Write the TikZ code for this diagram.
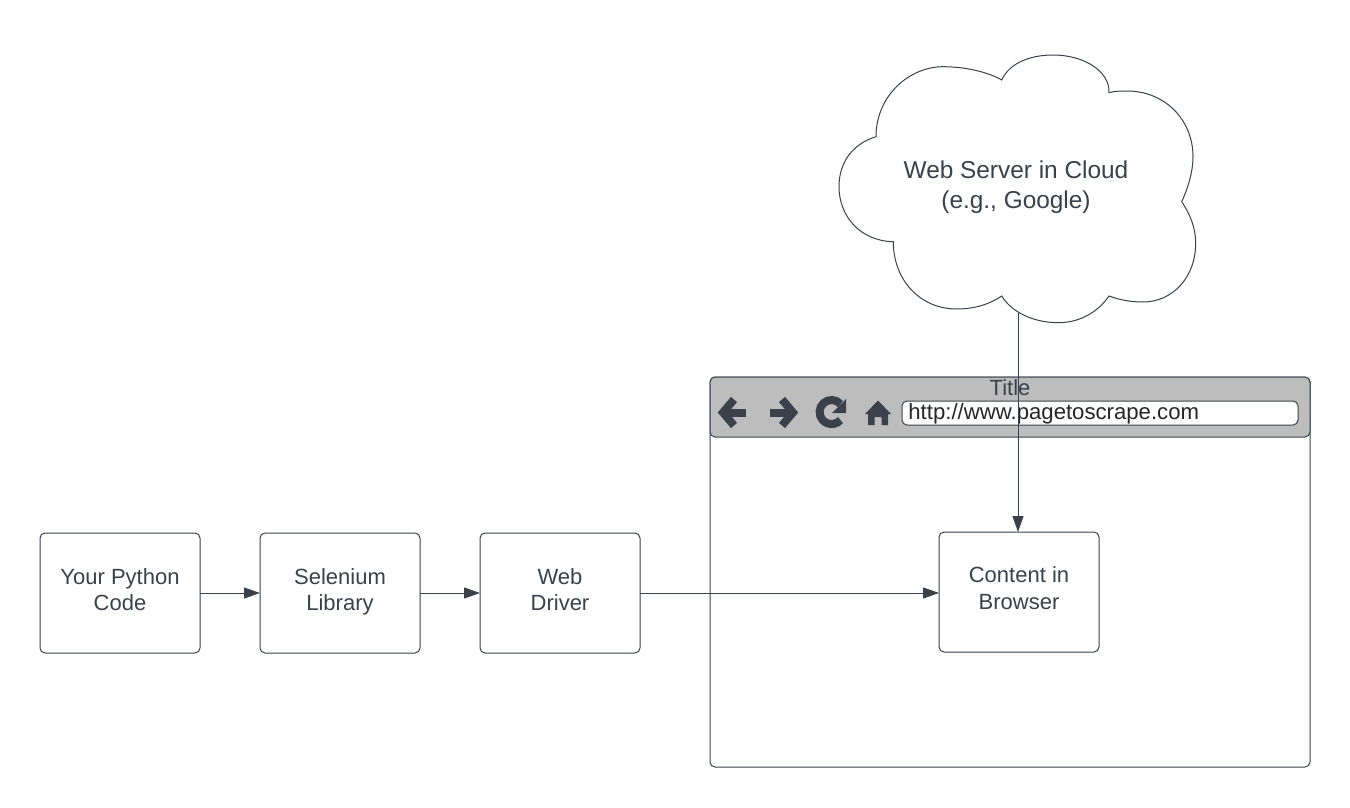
\documentclass[tikz,border=0pt]{standalone}
\usepackage{fontspec}
\setmainfont{Liberation Sans}
\usetikzlibrary{arrows.meta}
\definecolor{ink}{HTML}{3A414A}
\definecolor{barfill}{HTML}{BDBDBD}
\tikzset{
  lbl/.style={text=ink, font=\fontsize{11}{13.25}\selectfont, align=center},
  boxlbl/.style={lbl, anchor=north, inner sep=0pt},
  box/.style={draw=ink, line width=.5pt, rounded corners=2.5pt, minimum width=80pt, minimum height=60pt, inner sep=0pt, outer sep=0pt},
  link/.style={draw=ink, line width=.5pt, -{Triangle[length=8pt,width=5.5pt]}},
  outline/.style={draw=ink, line width=.5pt, rounded corners=2.5pt},
  icon/.style={draw=ink, line width=4pt}
}
\begin{document}
\begin{tikzpicture}[x=.5pt, y=-.5pt]
\useasboundingbox (0,0) rectangle (1350,808);
\draw[outline] (710,377) rectangle (1310,767);
\draw[outline, fill=barfill] (710,377) rectangle (1310,437);
\draw[outline, fill=white] (902,401) rectangle (1298,425);
\node[lbl] (title) at (1010,388) {Title};
\node[lbl, font=\fontsize{11.08}{13.25}\selectfont, anchor=west, inner sep=0pt, text=black!85] (url) at (908,414) {http://www.pagetoscrape.com};
\draw[icon] (734,399.5) -- (723,412.5) -- (734,425.5);
\draw[icon] (725,412.5) -- (746,412.5);
\draw[icon] (782,399.5) -- (793,412.5) -- (782,425.5);
\draw[icon] (770,412.5) -- (791,412.5);
\draw[icon] (840.5,404) arc[start angle=-42, end angle=-318, radius=12] ;
\fill[ink] (846,399) -- (846,413) -- (832,413) -- cycle;
\fill[ink] (878,400.5) -- (891,414) -- (888,414) -- (888,425) -- (881.5,425) -- (881.5,417) -- (874.5,417) -- (874.5,425) -- (868,425) -- (868,414) -- (865,414) -- cycle;
\draw[draw=ink, line width=.5pt, fill=white] (876,136.7)
  .. controls (876,95) and (910,66.7) .. (943,66.7)
  .. controls (965,66.7) and (988,72) .. (1001.7,80)
  .. controls (1010,62) and (1032,55) .. (1053,55)
  .. controls (1085,55) and (1110,72) .. (1109,92.7)
  .. controls (1115,91) and (1120,91) .. (1127,91)
  .. controls (1165,91) and (1193,120) .. (1193,156.7)
  .. controls (1193,172) and (1188,188) .. (1181.7,201.7)
  .. controls (1190,214) and (1195.7,228) .. (1195.7,243)
  .. controls (1195.7,278) and (1172,302) .. (1143,302)
  .. controls (1131,302) and (1120,300) .. (1109,296)
  .. controls (1098,312) and (1080,322.7) .. (1058,322.7)
  .. controls (1035,322.7) and (1012,313) .. (1001.7,296)
  .. controls (990,304) and (975,309) .. (956.7,309)
  .. controls (920,309) and (893.3,280) .. (893.3,241.7)
  .. controls (860,241) and (839,216) .. (839,186.7)
  .. controls (839,160) and (855,143) .. (876,136.7) -- cycle;
\node[lbl, font=\fontsize{12.2}{15}\selectfont] (cloud) at (1016,187.5) {Web Server in Cloud\\(e.g., Google)};
\node[box] (python) at (120,593) {};
\node[box] (selenium) at (340,593) {};
\node[box] (driver) at (560,593) {};
\node[box] (content) at (1019,592) {};
\node[boxlbl] (pythontxt) at (120,568) {Your Python\\Code};
\node[boxlbl] (seleniumtxt) at (340,568) {Selenium\\Library};
\node[boxlbl] (drivertxt) at (560,568) {Web\\Driver};
\node[boxlbl] (contenttxt) at (1019,566.5) {Content in\\Browser};
\coordinate (cloudout) at (1018,313);
\draw[link] (python) -- (selenium);
\draw[link] (selenium) -- (driver);
\draw[link] (driver.east) -- (driver.east -| content.west);
\draw[link] (cloudout) -- (cloudout |- content.north);
\end{tikzpicture}
\end{document}
